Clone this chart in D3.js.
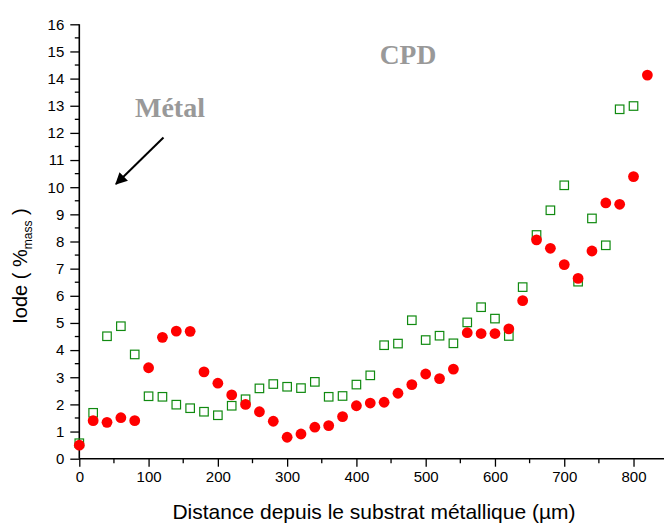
<!DOCTYPE html>
<html><head><meta charset="utf-8">
<script src="https://cdn.jsdelivr.net/npm/d3@7"></script>
<style>body{margin:0;background:#fff}svg{display:block}</style>
</head><body><div id="chart"></div>
<script>
const distRed = [0,20,40,60,80,100,120,140,160,180,200,220,240,260,280,300,320,340,360,380,400,420,440,460,480,500,520,540,560,580,600,620,640,660,680,700,720,740,760,780,800,820];
const iodeRed = [0.50,1.40,1.34,1.51,1.40,3.35,4.47,4.70,4.69,3.20,2.78,2.35,2.00,1.73,1.38,0.79,0.91,1.16,1.22,1.55,1.95,2.05,2.08,2.41,2.73,3.12,2.95,3.30,4.64,4.61,4.61,4.78,5.82,8.06,7.75,7.15,6.64,7.65,9.42,9.37,10.39,14.13];
const distGreen = [0,20,40,60,80,100,120,140,160,180,200,220,240,260,280,300,320,340,360,380,400,420,440,460,480,500,520,540,560,580,600,620,640,660,680,700,720,740,760,780,800];
const iodeGreen = [0.57,1.69,4.51,4.88,3.84,2.30,2.28,1.99,1.86,1.73,1.60,1.95,2.19,2.59,2.75,2.65,2.60,2.83,2.28,2.31,2.73,3.07,4.18,4.24,5.10,4.37,4.53,4.25,5.02,5.58,5.16,4.52,6.32,8.24,9.15,10.07,6.52,8.85,7.86,12.87,12.99];
const xTicks = [0,100,200,300,400,500,600,700,800];
const yTicks = [0,1,2,3,4,5,6,7,8,9,10,11,12,13,14,15,16];

const W = 664, H = 525;
const svg = d3.select("#chart").append("svg").attr("width", W).attr("height", H);
const x = d3.scaleLinear().domain([0, 844]).range([79.3, 664]);
const y = d3.scaleLinear().domain([0, 16]).range([458.7, 24.3]);
const font = "'Liberation Sans', Arial, sans-serif";

// minor ticks
const xMinor = d3.range(50, 844, 100);
const yMinor = d3.range(0.5, 16, 1);

const xAxis = svg.append("g").attr("transform", `translate(0,${y(0)})`)
  .call(d3.axisBottom(x).tickValues(xTicks).tickSize(8).tickPadding(5).tickFormat(d3.format("d")));
xAxis.append("g").selectAll("line").data(xMinor).join("line")
  .attr("x1", d => x(d)).attr("x2", d => x(d)).attr("y1", 0).attr("y2", 4.5)
  .attr("stroke", "#000").attr("stroke-width", 1.3);
const yAxis = svg.append("g").attr("transform", `translate(${x(0)},0)`)
  .call(d3.axisLeft(y).tickValues(yTicks).tickSize(9).tickPadding(6).tickFormat(d3.format("d")));
yAxis.append("g").selectAll("line").data(yMinor).join("line")
  .attr("y1", d => y(d)).attr("y2", d => y(d)).attr("x1", 0).attr("x2", -4.5)
  .attr("stroke", "#000").attr("stroke-width", 1.3);
[xAxis, yAxis].forEach(a => {
  a.select(".domain").attr("stroke-width", 1.6).attr("d", null);
  a.selectAll(".tick line").attr("stroke-width", 1.3);
  a.selectAll("text").attr("font-family", font).attr("font-size", 15).attr("fill", "#000");
});
xAxis.select(".domain").attr("d", `M${x(0)},0H${W}`);
yAxis.select(".domain").attr("d", `M0,${y(16)}V${y(0)}`);

// green squares
const s = 8.5;
svg.append("g").selectAll("rect").data(distGreen.map((d, i) => [d, iodeGreen[i]])).join("rect")
  .attr("x", d => x(d[0]) - s / 2).attr("y", d => y(d[1]) - s / 2)
  .attr("width", s).attr("height", s)
  .attr("fill", "none").attr("stroke", "#108a10").attr("stroke-width", 1.2);
// red circles
svg.append("g").selectAll("circle").data(distRed.map((d, i) => [d, iodeRed[i]])).join("circle")
  .attr("cx", d => x(d[0])).attr("cy", d => y(d[1])).attr("r", 5.4)
  .attr("fill", "#ff0000");

// annotations
svg.append("text").attr("x", 408).attr("y", 63.5).attr("text-anchor", "middle")
  .attr("font-family", "'Liberation Serif', 'Times New Roman', serif").attr("font-weight", "bold")
  .attr("font-size", 27.5).attr("fill", "#999999").text("CPD");
svg.append("text").attr("x", 170).attr("y", 117).attr("text-anchor", "middle")
  .attr("font-family", "'Liberation Serif', 'Times New Roman', serif").attr("font-weight", "bold")
  .attr("font-size", 28).attr("fill", "#999999").text("Métal");
svg.append("defs").append("marker").attr("id", "ah").attr("viewBox", "0 0 10 10")
  .attr("refX", 9).attr("refY", 5).attr("markerWidth", 6).attr("markerHeight", 6)
  .attr("markerUnits", "strokeWidth").attr("orient", "auto")
  .append("path").attr("d", "M0,0L10,5L0,10Z").attr("fill", "#000");
svg.append("line").attr("x1", 163.5).attr("y1", 137.5).attr("x2", 116).attr("y2", 184)
  .attr("stroke", "#000").attr("stroke-width", 2).attr("marker-end", "url(#ah)");

// axis titles
svg.append("text").attr("x", 374).attr("y", 519).attr("text-anchor", "middle")
  .attr("font-family", font).attr("font-size", 21).attr("fill", "#000")
  .text("Distance depuis le substrat métallique (µm)");
const yt = svg.append("text").attr("transform", "translate(27,266) rotate(-90)")
  .attr("text-anchor", "middle").attr("font-family", font).attr("font-size", 20).attr("fill", "#000");
yt.append("tspan").text("Iode ( %");
yt.append("tspan").attr("font-size", 12).attr("dy", 5).text("mass");
yt.append("tspan").attr("dy", -5).text(" )");
</script></body></html>
